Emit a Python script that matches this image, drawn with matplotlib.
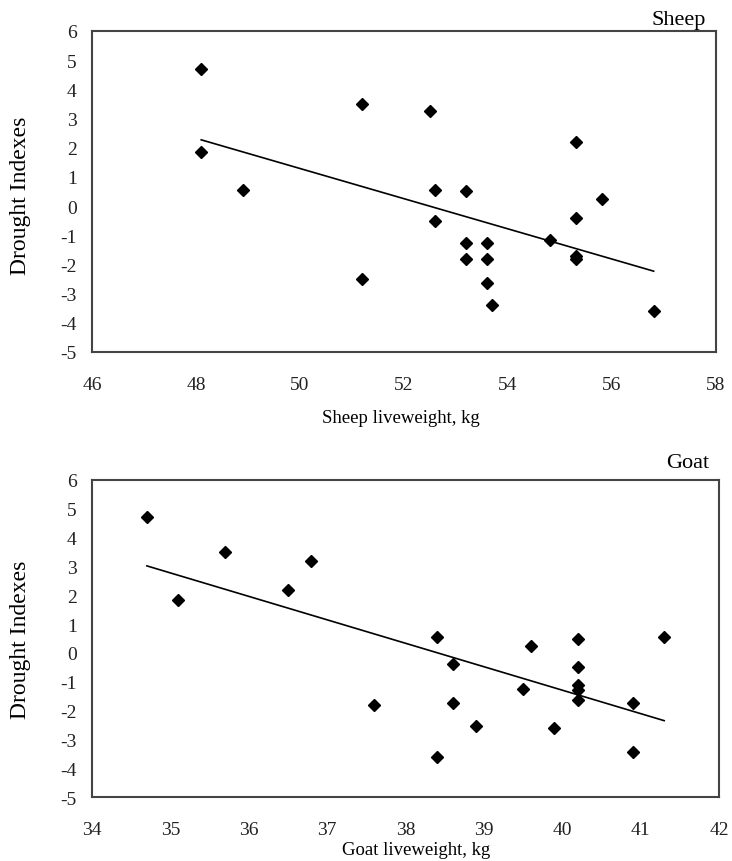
import matplotlib.pyplot as plt

plt.rcParams['font.family'] = ['Liberation Serif', 'DejaVu Serif']
plt.rcParams['axes.unicode_minus'] = False

# Sheep panel
sheep_wt = [48.1, 48.1, 48.9, 51.2, 51.2, 52.5, 52.6, 52.6, 53.2, 53.2, 53.2,
            53.6, 53.6, 53.6, 53.7, 54.8, 55.3, 55.3, 55.3, 55.3, 55.8, 56.8]
sheep_di = [4.7, 1.85, 0.55, 3.5, -2.5, 3.25, 0.55, -0.5, 0.5, -1.25, -1.8,
            -1.25, -1.8, -2.65, -3.4, -1.15, 2.2, -0.4, -1.7, -1.8, 0.25, -3.6]
sheep_trend_x = [48.1, 56.8]
sheep_trend_y = [2.27, -2.23]

# Goat panel
goat_wt = [34.7, 35.1, 35.7, 36.5, 36.8, 37.6, 38.4, 38.4, 38.6, 38.6, 38.9,
           39.5, 39.6, 39.9, 40.2, 40.2, 40.2, 40.2, 40.2, 40.9, 40.9, 41.3]
goat_di = [4.7, 1.85, 3.5, 2.2, 3.2, -1.8, 0.55, -3.6, -0.4, -1.75, -2.55,
           -1.25, 0.25, -2.6, 0.5, -0.5, -1.1, -1.3, -1.65, -1.75, -3.45, 0.55]
goat_trend_x = [34.7, 41.3]
goat_trend_y = [3.02, -2.35]

y_ticks = list(range(-5, 7))

fig = plt.figure(figsize=(7.32, 8.62), dpi=100)
ax1 = fig.add_axes([0.1257, 0.5905, 0.8525, 0.3724])
ax2 = fig.add_axes([0.1257, 0.0742, 0.8566, 0.3678])

panels = [
    (ax1, sheep_wt, sheep_di, sheep_trend_x, sheep_trend_y, 'Sheep',
     'Sheep liveweight, kg', (46, 58), range(46, 59, 2)),
    (ax2, goat_wt, goat_di, goat_trend_x, goat_trend_y, 'Goat',
     'Goat liveweight, kg', (34, 42), range(34, 43)),
]

for ax, x, y, tx, ty, title, xlab, xlim, xt in panels:
    ax.plot(x, y, 'D', color='black', markersize=6.3, zorder=3)
    ax.plot(tx, ty, '-', color='black', linewidth=1.2)
    ax.set_xlim(*xlim)
    ax.set_ylim(-5, 6)
    ax.set_xticks(list(xt))
    ax.set_yticks(y_ticks)
    ax.tick_params(length=0, labelsize=14, labelcolor='#222222')
    ax.tick_params(axis='y', pad=11)
    ax.tick_params(axis='x', pad=17)
    for s in ax.spines.values():
        s.set_color('#444444')
        s.set_linewidth(1.5)
    ax.set_ylabel('Drought Indexes', fontsize=17)

ax1.yaxis.set_label_coords(-0.098, 0.49)
ax2.yaxis.set_label_coords(-0.098, 0.5)

ax1.text(0.984, 1.005, 'Sheep', transform=ax1.transAxes, ha='right',
         va='bottom', fontsize=16)
ax2.text(0.985, 1.04, 'Goat', transform=ax2.transAxes, ha='right',
         va='baseline', fontsize=16)

ax1.set_xlabel('Sheep liveweight, kg', fontsize=13.5)
ax1.xaxis.set_label_coords(0.495, -0.178)
ax2.set_xlabel('Goat liveweight, kg', fontsize=13.5)
ax2.xaxis.set_label_coords(0.517, -0.14)

fig.savefig('out.png', dpi=100)
